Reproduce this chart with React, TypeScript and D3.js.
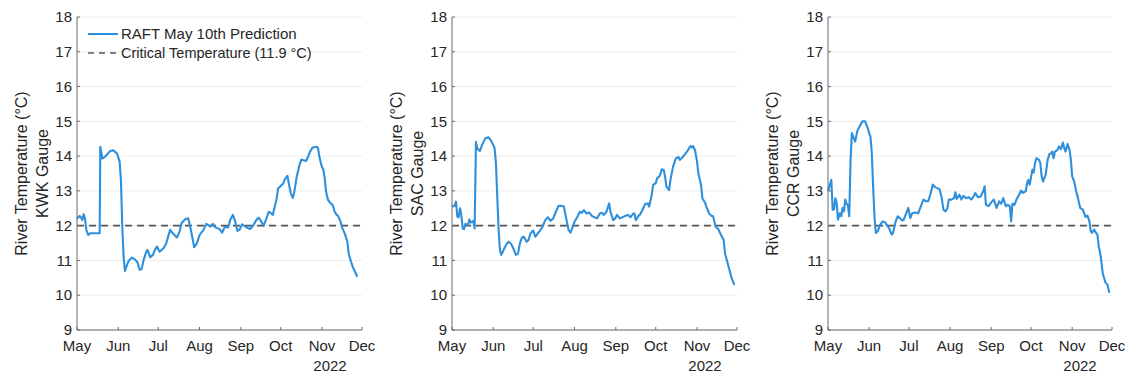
import React from "react";
import * as d3 from "d3";

// Day offsets from 2022-05-01 and river temperatures (°C)
const kwkDays = [0,2,3,4,5,6,7,8.5,10,17,17.5,19,21,25,27,30,32,33,34,35,36,38.5,41,43.5,45.5,47,48.5,50,52,53,55,57,58.5,60,62,65,67,68.5,70,72,75,77,78.5,81,83.5,85,87,88,90,92,95,97,98.5,100,102,104,107,109,111,113.5,115,117,118.5,120.5,122,124,126,128,130,132,135,136.5,138.5,140,142,144,146,147,148.5,150,151,153,155,156,158,159,160.5,162,163,165,167,168.5,170,172,173.5,175,177,180,181,182,183.5,185,186,187,188.5,190,192,193.5,195,196,198,199,201,203,204,205,207,210.5];
const kwkTemp = [12.2,12.28,12.24,12.16,12.33,12.2,11.88,11.73,11.78,11.78,14.27,13.93,13.98,14.15,14.17,14.08,13.84,13.3,11.97,11.1,10.7,10.97,11.08,11.03,10.94,10.73,10.75,11.01,11.25,11.3,11.09,11.16,11.3,11.4,11.25,11.35,11.49,11.7,11.88,11.78,11.66,11.83,12.07,12.18,12.21,11.97,11.59,11.38,11.49,11.73,11.88,12.05,12.02,11.97,12.05,11.95,11.9,11.8,11.97,11.95,12.16,12.31,12.16,11.85,11.88,12.04,11.99,11.94,11.9,11.99,12.18,12.23,12.11,11.99,12.18,12.4,12.35,12.31,12.55,12.79,13.07,13.14,13.22,13.33,13.43,13.22,12.93,12.8,12.93,13.41,13.74,13.9,13.88,13.86,13.98,14.13,14.25,14.27,14.22,13.98,13.74,13.6,13.36,12.98,12.74,12.66,12.59,12.4,12.31,12.28,12.11,11.95,11.78,11.54,11.2,11.06,10.82,10.53];

const sacDays = [0,2,3,4,5,6,7,8,9,10,12,13,14,16,17,18,19,21,22.5,25,27.5,29,31,32,33,34,35,36,37,39,40.5,42.5,44.5,46,48,49.5,51,52.5,54,56,57.5,59,61,62.5,64,66,68,70,72,74,76,78,80,82,84,86,87.5,89,90,92,94,96,97.5,99,101,103,105,107,109,111,112.5,114,116,118,119,121,122.5,124,126,128,130,132,134,136,137,138,140,141,143,145,147,148,150,151,153,154,156,157.5,159,160,161,163,164,166,168,170,171,173,175,177,179,180,181,182.5,184,185,187,188,190,191,193,195,196,198,200,202,204,205,207,209,210,212];
const sacTemp = [12.55,12.57,12.69,12.26,12.24,12.5,12.31,11.92,11.9,12.05,12.02,12.18,12.09,12.14,11.92,14.41,14.22,14.15,14.32,14.51,14.54,14.46,14.32,14.22,13.79,12.83,11.88,11.3,11.16,11.32,11.44,11.54,11.47,11.35,11.16,11.19,11.49,11.66,11.68,11.54,11.59,11.78,11.86,11.68,11.76,11.85,11.97,12.16,12.24,12.14,12.21,12.4,12.57,12.57,12.55,12.16,11.88,11.8,11.9,12.11,12.24,12.4,12.37,12.45,12.35,12.38,12.28,12.24,12.21,12.35,12.37,12.31,12.4,12.64,12.4,12.16,12.21,12.31,12.21,12.24,12.28,12.31,12.24,12.35,12.35,12.16,12.28,12.31,12.45,12.62,12.64,12.55,12.88,13.17,13.22,13.36,13.43,13.62,13.6,13.41,13.12,13.02,13.31,13.7,13.93,13.98,13.89,13.96,14.06,14.16,14.29,14.25,14.29,14.17,13.84,13.5,13.17,12.79,12.66,12.55,12.35,12.28,12.28,11.97,11.9,11.73,11.59,11.2,10.92,10.63,10.49,10.3];

const ccrDays = [0,1,2.5,3.5,4.5,5.5,6.5,7.5,9,10,11,12,13,14,15,16,17,18,19,20.5,22,24,26,28,30,31,32,33,34,35,36,37.5,39,41,43,45,46,48,49,51,52.5,54,56,57,59,60.5,62,63.5,65.5,68,70,72,74,75.5,77,79,81,84,85.5,87,88.5,90,91,93,95,96,97,99,100.5,102,104,106,108,110,111,113,115,117,118,119,121,123,125,127,129,130.5,132,134,135.5,137,138,139,140.5,142,144,145.5,147,149,150,151,152,154,155,156,157,159,160,161,162,164,165.5,167,168,169,170,171,173,174,175.5,177,178,179,180.5,182,183,184,185.5,187,188.5,190,192,193,194,195.5,197,198,199,200.5,202,203,204,205.5,207,208,209,210.5,212];
const ccrTemp = [12.99,13.13,13.32,12.46,12.46,12.79,12.67,12.17,12.36,12.27,12.51,12.41,12.75,12.63,12.6,12.27,13.89,14.66,14.56,14.42,14.71,14.87,15.0,15.0,14.8,14.66,14.56,14.09,13.13,12.27,11.79,11.84,12.0,12.12,12.1,11.98,11.93,11.74,11.79,12.12,12.27,12.22,12.15,12.17,12.36,12.51,12.22,12.36,12.38,12.36,12.56,12.75,12.7,12.7,12.89,13.18,13.1,13.05,12.84,12.46,12.41,12.51,12.75,12.75,12.79,12.96,12.77,12.89,12.75,12.86,12.79,12.82,12.75,12.86,12.94,12.82,12.84,12.99,13.13,12.6,12.56,12.67,12.75,12.51,12.7,12.63,12.79,12.56,12.6,12.56,12.12,12.63,12.6,12.75,12.89,13.01,12.94,12.99,13.22,13.32,13.18,13.61,13.53,13.8,13.94,13.89,13.8,13.42,13.27,13.46,13.89,14.07,14.07,14.13,13.94,14.13,14.18,14.28,14.2,14.39,14.23,14.13,14.35,14.18,13.89,13.42,13.27,12.99,12.77,12.51,12.46,12.36,12.25,12.29,12.12,11.84,11.79,11.89,11.79,11.74,11.41,11.12,10.64,10.5,10.37,10.31,10.07];

const gaugeNames = ["KWK", "SAC", "CCR"];
const monthLabels = ["May", "Jun", "Jul", "Aug", "Sep", "Oct", "Nov", "Dec"];
const yTicks = [9, 10, 11, 12, 13, 14, 15, 16, 17, 18];
const criticalTemp = 12;
const legendLabels = ["RAFT May 10th Prediction", "Critical Temperature (11.9 °C)"];
const yearLabel = "2022";

const START = new Date(Date.UTC(2022, 4, 1));
const END = new Date(Date.UTC(2022, 11, 1));
const toDate = (d: number) => new Date(START.getTime() + d * 864e5);

const panels = [
  { x0: 77, x1: 362, days: kwkDays, temps: kwkTemp },
  { x0: 452, x1: 737, days: sacDays, temps: sacTemp },
  { x0: 828, x1: 1112, days: ccrDays, temps: ccrTemp },
];

const FONT = "'Liberation Sans', Arial, Helvetica, sans-serif";
const TEXT = "#262626";
const BLUE = "#2E8FDC";

export default function App() {
  const y = d3.scaleLinear().domain([9, 18]).range([330, 17]);
  const monthDates = d3.utcMonth.range(START, d3.utcDay.offset(END, 1));
  return (
    <svg width={1131} height={377} style={{ position: "absolute", left: 0, top: 0, background: "#fff" }} fontFamily={FONT}>
      {panels.map((p, i) => {
        const x = d3.scaleUtc().domain([START, END]).range([p.x0, p.x1]);
        const line = d3
          .line<number>()
          .x((_, k) => x(toDate(p.days[k])))
          .y((t) => y(t));
        const cx = p.x0;
        const yMid = (y(9) + y(18)) / 2;
        return (
          <g key={i}>
            {yTicks.map((t) => (
              <line key={"g" + t} x1={p.x0} x2={p.x1} y1={y(t)} y2={y(t)} stroke="#ececec" strokeWidth={1} />
            ))}
            <line x1={x(START)} x2={x(END)} y1={y(criticalTemp)} y2={y(criticalTemp)} stroke="#555" strokeWidth={1.6} strokeDasharray="7,5" />
            <path d={line(p.temps) || ""} fill="none" stroke={BLUE} strokeWidth={2.1} strokeLinejoin="round" />
            <line x1={p.x0} x2={p.x0} y1={y(9)} y2={y(18)} stroke="#6a6a6a" strokeWidth={1} />
            <line x1={p.x0} x2={p.x1} y1={y(9)} y2={y(9)} stroke="#6a6a6a" strokeWidth={1} />
            {yTicks.map((t) => (
              <g key={"t" + t}>
                <line x1={p.x0} x2={p.x0 + 3} y1={y(t)} y2={y(t)} stroke="#6a6a6a" />
                <text x={p.x0 - 5} y={y(t)} dy="0.35em" textAnchor="end" fontSize={15} fill={TEXT}>{t}</text>
              </g>
            ))}
            {monthDates.map((m, k) => (
              <g key={"m" + k}>
                <line x1={x(m)} x2={x(m)} y1={y(9)} y2={y(9) - 3} stroke="#6a6a6a" />
                <text x={x(m)} y={351} textAnchor="middle" fontSize={15} fill={TEXT}>{monthLabels[k]}</text>
              </g>
            ))}
            <text x={p.x1 - 32} y={371} textAnchor="middle" fontSize={15} fill={TEXT}>{yearLabel}</text>
            <text transform={`translate(${cx - 56},${yMid}) rotate(-90)`} textAnchor="middle" dy="0.35em" fontSize={16} fill={TEXT}>River Temperature (°C)</text>
            <text transform={`translate(${cx - 35},${yMid}) rotate(-90)`} textAnchor="middle" dy="0.35em" fontSize={16} fill={TEXT}>{gaugeNames[i] + " Gauge"}</text>
          </g>
        );
      })}
      <g>
        <line x1={88} x2={118} y1={34} y2={34} stroke={BLUE} strokeWidth={2} />
        <text x={121} y={34} dy="0.35em" fontSize={15} fill={TEXT}>{legendLabels[0]}</text>
        <line x1={88} x2={120} y1={53} y2={53} stroke="#555" strokeWidth={1.6} strokeDasharray="6,5" />
        <text x={121} y={53} dy="0.35em" fontSize={14.5} fill={TEXT}>{legendLabels[1]}</text>
      </g>
    </svg>
  );
}
